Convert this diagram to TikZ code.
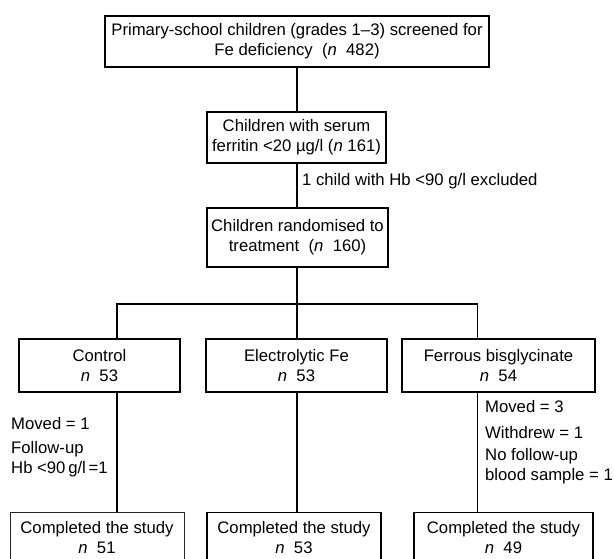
\documentclass[tikz,border=0pt]{standalone}
\usepackage{fontspec}
\setmainfont{Liberation Sans}
\newcommand\myfs{\fontsize{16.7}{19.8}\selectfont}
\begin{document}
\begin{tikzpicture}[x=1pt,y=-1pt,
  box/.style={draw,line width=1.4pt,inner sep=0pt,align=center,font=\myfs},
  thinbox/.style={box,line width=0.9pt,draw=black!85},
  lbl/.style={inner sep=0pt,align=left,anchor=west,font=\myfs},
  conn/.style={line width=1.4pt}]
\useasboundingbox (0,0) rectangle (614,558);
\clip (0,0) rectangle (614,558);
% main column
\node[box,minimum width=384pt,minimum height=51pt] (top) at (297,41.5)
  {Primary-school children (grades 1--3) screened for\\Fe deficiency\ \ (\textit{n}\ \ 482)};
\node[box,minimum width=179pt,minimum height=51pt] (b2) at (296.5,137.5)
  {Children with serum\\ferritin <20 µg/l (\textit{n} 161)};
\node[box,minimum width=181pt,minimum height=59pt] (b3) at (297.5,237.5)
  {Children randomised to\\treatment\ \ (\textit{n}\ \ 160)};
% arms
\node[box,minimum width=161pt,minimum height=53pt] (ctrl) at (99.5,365.5)
  {Control\\\textit{n}\ \ 53};
\node[box,minimum width=181pt,minimum height=53pt] (elec) at (296.5,365.5)
  {Electrolytic Fe\\\textit{n}\ \ 53};
\node[box,minimum width=193pt,minimum height=53pt] (ferr) at (498.5,365.5)
  {Ferrous bisglycinate\\\textit{n}\ \ 54};
% completed
\node[thinbox,minimum width=174pt,minimum height=50pt,anchor=north] (cb1) at (97,512)
  {Completed the study\\\textit{n}\ \ 51};
\node[box,minimum width=174pt,minimum height=50pt,anchor=north] (cb2) at (294,512)
  {Completed the study\\\textit{n}\ \ 53};
\node[box,minimum width=179pt,minimum height=50pt,anchor=north] (cb3) at (503.5,512)
  {Completed the study\\\textit{n}\ \ 49};
% junctions
\coordinate (jL) at (117,304);
\coordinate (jM) at (297,304);
\coordinate (jR) at (477.5,304);
% connectors
\draw[conn] (top.south -| jM) -- (jM |- b2.north);
\draw[conn] (b2.south -| jM) -- (jM |- b3.north);
\draw[conn] (b3.south -| jM) -- (jM);
\draw[conn] (jL |- ctrl.north) -- (jL) -- (jR) -- (jR |- ferr.north);
\draw[conn] (jM) -- (jM |- elec.north);
\draw[conn] (ctrl.south -| jL) -- (jL |- cb1.north);
\draw[conn] (elec.south -| jM) -- (jM |- cb2.north);
\draw[conn] (ferr.south -| jR) -- (jR |- cb3.north);
% labels
\node[lbl] (ex) at (302,181) {1 child with Hb <90 g/l excluded};
\node[lbl] (m1) at (11,424) {Moved = 1};
\node[lbl] (f1) at (11,459) {Follow-up\\Hb <90\,g/l\,=1};
\node[lbl] (m3) at (485,407) {Moved = 3};
\node[lbl] (w3) at (485,433) {Withdrew = 1};
\node[lbl] (n3) at (485,466) {No follow-up\\blood sample = 1};
\end{tikzpicture}
\end{document}
